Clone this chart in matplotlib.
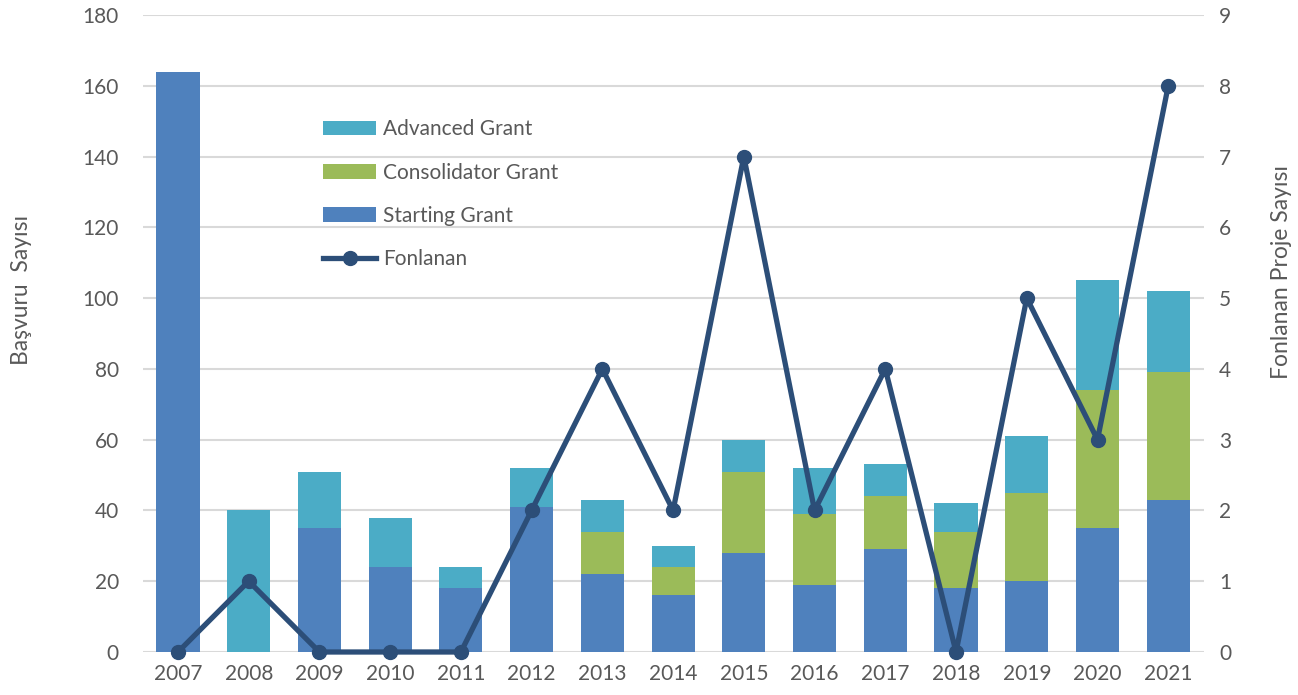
import matplotlib
matplotlib.use("Agg")
import matplotlib.pyplot as plt
import numpy as np
from matplotlib.patches import Patch
from matplotlib.lines import Line2D

years = ["2007", "2008", "2009", "2010", "2011", "2012", "2013", "2014",
         "2015", "2016", "2017", "2018", "2019", "2020", "2021"]
starting = [164, 0, 35, 24, 18, 41, 22, 16, 28, 19, 29, 18, 20, 35, 43]
consolidator = [0, 0, 0, 0, 0, 0, 12, 8, 23, 20, 15, 16, 25, 39, 36]
advanced = [0, 40, 16, 14, 6, 11, 9, 6, 9, 13, 9, 8, 16, 31, 23]
fonlanan = [0, 1, 0, 0, 0, 2, 4, 2, 7, 2, 4, 0, 5, 3, 8]

c_start = "#4F81BD"
c_cons = "#9BBB59"
c_adv = "#4BACC6"
c_line = "#2C4E78"
c_text = "#595959"
c_grid = "#D9D9D9"

plt.rcParams['font.family'] = ['Lato', 'DejaVu Sans']

W, H = 1298, 695
fs = 15
fig = plt.figure(figsize=(W / 100, H / 100), dpi=100)
ax = fig.add_axes([142.6 / W, 1 - 652 / H, (1203.6 - 142.6) / W, (652 - 15) / H])

x = np.arange(len(years))
bw = 0.61
s = np.array(starting)
c = np.array(consolidator)
a = np.array(advanced)
ax.bar(x, s, bw, color=c_start, zorder=2)
ax.bar(x, c, bw, bottom=s, color=c_cons, zorder=2)
ax.bar(x, a, bw, bottom=s + c, color=c_adv, zorder=2)

ax.set_xlim(-0.5, len(years) - 0.5)
ax.set_ylim(0, 180)
ax.set_yticks(np.arange(0, 181, 20))
ax.set_xticks(x)
ax.set_xticklabels(years)
ax.yaxis.grid(True, color=c_grid, linewidth=1.5, zorder=0)
ax.set_axisbelow(True)
for sp in ax.spines.values():
    sp.set_visible(False)
ax.tick_params(axis='both', length=0, labelsize=fs, labelcolor=c_text)
ax.tick_params(axis='y', pad=17)
ax.tick_params(axis='x', pad=9)

ax2 = ax.twinx()
ax2.set_ylim(0, 9)
ax2.set_yticks(np.arange(0, 10, 1))
ax2.plot(x, fonlanan, color=c_line, linewidth=3.8, marker='o', markersize=10,
         zorder=5, clip_on=False)
for sp in ax2.spines.values():
    sp.set_visible(False)
ax2.tick_params(axis='y', length=0, labelsize=fs, labelcolor=c_text, pad=11)

fig.text(22 / W, 1 - 290 / H, "Başvuru  Sayısı", rotation=90, ha='center', va='center',
         fontsize=16.5, color=c_text)
fig.text(1282 / W, 1 - 272 / H, "Fonlanan Proje Sayısı", rotation=90, ha='center',
         va='center', fontsize=16.5, color=c_text)

handles = [Patch(facecolor=c_adv), Patch(facecolor=c_cons), Patch(facecolor=c_start),
           Line2D([0], [0], color=c_line, linewidth=3.8, marker='o', markersize=10)]
labels = ["Advanced Grant", "Consolidator Grant", "Starting Grant", "Fonlanan"]
leg = fig.legend(handles, labels, loc='upper left', bbox_to_anchor=(315 / W, 1 - 111 / H),
                 frameon=False, fontsize=fs, labelspacing=1.12, handlelength=2.55,
                 handletextpad=0.3, borderaxespad=0)
for t in leg.get_texts():
    t.set_color(c_text)

fig.savefig("out.png", dpi=100)
